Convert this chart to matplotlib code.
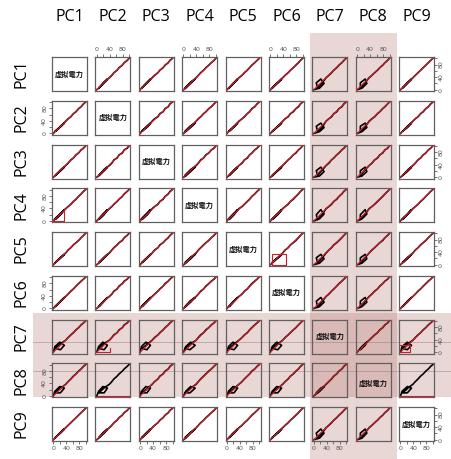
import matplotlib
matplotlib.use("Agg")
import matplotlib.pyplot as plt
from matplotlib.patches import Rectangle
from matplotlib.lines import Line2D

# ---------------------------------------------------------------------------
# data (0-100 scale)
# ---------------------------------------------------------------------------
labels = ["PC1", "PC2", "PC3", "PC4", "PC5", "PC6", "PC7", "PC8", "PC9"]
diag_text = "虚拟電力"

pc1 = [0, 5, 20, 34, 22, 6, 24, 38, 46, 54, 62, 70, 78, 86, 93, 100]
pc2 = [0, 6, 19, 33, 23, 7, 23, 39, 47, 53, 63, 69, 79, 85, 94, 100]
pc3 = [0, 4, 18, 32, 21, 6, 25, 37, 45, 55, 61, 71, 77, 87, 92, 100]
pc4 = [0, 7, 22, 36, 20, 5, 23, 39, 46, 53, 62, 69, 78, 86, 94, 100]
pc5 = [0, 5, 19, 33, 22, 7, 24, 37, 47, 54, 63, 70, 77, 86, 93, 100]
pc6 = [0, 6, 20, 35, 23, 6, 25, 38, 46, 55, 62, 71, 79, 87, 93, 100]
pc7 = [0, 18, 32, 22, 8, 12, 28, 38, 47, 55, 62, 71, 78, 87, 93, 100]
pc8 = [0, 15, 30, 25, 10, 10, 26, 37, 46, 54, 63, 70, 79, 86, 94, 100]
pc9 = [0, 5, 21, 34, 21, 7, 24, 38, 46, 54, 62, 70, 78, 86, 93, 100]
series = [pc1, pc2, pc3, pc4, pc5, pc6, pc7, pc8, pc9]

ref_line = [0, 100]           # red reference line y = x
axis_ticks = [0, 20, 40, 60, 80, 100]
axis_ticklabels = ["0", "", "40", "", "80", ""]

# extra red traces seen in a few panels: (row, col) -> (x, y)
red_pc4_pc1_x = [0, 32, 32]
red_pc4_pc1_y = [0, 0, 35]
red_pc5_pc6_x = [5, 48, 48, 5, 5]
red_pc5_pc6_y = [0, 0, 34, 34, 0]
red_pc7_pc2_x = [0, 40, 40]
red_pc7_pc2_y = [0, 0, 14]
red_pc7_pc9_x = [0, 30, 30, 0]
red_pc7_pc9_y = [0, 0, 24, 24]
red_flat_x = [0, 100]
red_flat_y = [0, 0]
red_extra = {
    (3, 0): (red_pc4_pc1_x, red_pc4_pc1_y),
    (4, 5): (red_pc5_pc6_x, red_pc5_pc6_y),
    (6, 1): (red_pc7_pc2_x, red_pc7_pc2_y),
    (6, 8): (red_pc7_pc9_x, red_pc7_pc9_y),
    (7, 1): (red_flat_x, red_flat_y),
    (7, 8): (red_flat_x, red_flat_y),
}
no_diag_red = [(7, 1), (7, 8)]

# ---------------------------------------------------------------------------
W, H = 452, 459
fig = plt.figure(figsize=(W / 100, H / 100), dpi=100)
fig.patch.set_facecolor("white")

RED = "#c8202a"
SHADE = "#b27069"
FRAME = "#606060"
LABEL_FONT = ["Open Sans", "DejaVu Sans"]
CJK_FONT = ["Noto Sans CJK JP", "DejaVu Sans"]


def fx(x):
    return x / W


def fy(y):
    return 1 - y / H


# highlighted columns / rows (pink band) for PC7 and PC8
col_x0, col_x1 = 310, 397
row_y0, row_y1 = 313, 397
fig.patches.append(Rectangle((fx(col_x0), 0), fx(col_x1 - col_x0), fy(33),
                             transform=fig.transFigure, color=SHADE, alpha=0.28,
                             lw=0, zorder=-2))
fig.patches.append(Rectangle((fx(33), fy(row_y1)), 1 - fx(33), (row_y1 - row_y0) / H,
                             transform=fig.transFigure, color=SHADE, alpha=0.28,
                             lw=0, zorder=-2))
for yy in (342, 371):
    fig.lines.append(Line2D([fx(33), 1], [fy(yy), fy(yy)], transform=fig.transFigure,
                            color="#8a7070", lw=0.5, alpha=0.6, zorder=-1))

x0, dx, pw = 52, 43.4, 35
y0, dy, ph = 57, 43.75, 34
n = len(labels)

for i in range(n):
    for j in range(n):
        left = x0 + j * dx
        top = y0 + i * dy
        ax = fig.add_axes([fx(left), fy(top + ph), pw / W, ph / H])
        ax.set_facecolor("none")
        ax.set_xlim(-4, 104)
        ax.set_ylim(-4, 104)
        for s in ax.spines.values():
            s.set_color(FRAME)
            s.set_linewidth(0.9)
        ax.tick_params(length=2.5, width=0.6, color=FRAME, labelsize=4.5,
                       labelcolor="#555555", pad=1)
        ax.set_xticks([])
        ax.set_yticks([])

        if i == j:
            ax.text(0.5, 0.5 if i != 7 else 0.42, diag_text, transform=ax.transAxes,
                    ha="center", va="center", fontsize=5.2, fontweight="bold",
                    family=CJK_FONT, color="#111111")
        else:
            ax.plot(series[j], series[i], color="black", lw=1.2, zorder=2)
            if (i, j) not in no_diag_red:
                ax.plot(ref_line, ref_line, color=RED, lw=0.9, zorder=3)
            if (i, j) in red_extra:
                ex, ey = red_extra[(i, j)]
                ax.plot(ex, ey, color=RED, lw=0.8, zorder=3)

        # R pairs() style alternating axes
        if i == 0 and j % 2 == 1:
            ax.xaxis.tick_top()
            ax.set_xticks(axis_ticks)
            ax.set_xticklabels(axis_ticklabels)
        if i == n - 1 and j % 2 == 0:
            ax.set_xticks(axis_ticks)
            ax.set_xticklabels(axis_ticklabels)
        if j == 0 and i % 2 == 1:
            ax.set_yticks(axis_ticks)
            ax.set_yticklabels(axis_ticklabels, rotation=90, va="center")
        if j == n - 1 and i % 2 == 0:
            ax.yaxis.tick_right()
            ax.set_yticks(axis_ticks)
            ax.set_yticklabels(axis_ticklabels, rotation=90, va="center")

# variable names
for k, lab in enumerate(labels):
    fig.text(fx(x0 + k * dx + pw / 2), fy(17), lab, ha="center", va="center",
             fontsize=11.5, family=LABEL_FONT)
    fig.text(fx(22), fy(y0 + k * dy + ph / 2), lab, ha="center", va="center",
             rotation=90, fontsize=11.5, family=LABEL_FONT)

fig.savefig("out.png", dpi=100)
